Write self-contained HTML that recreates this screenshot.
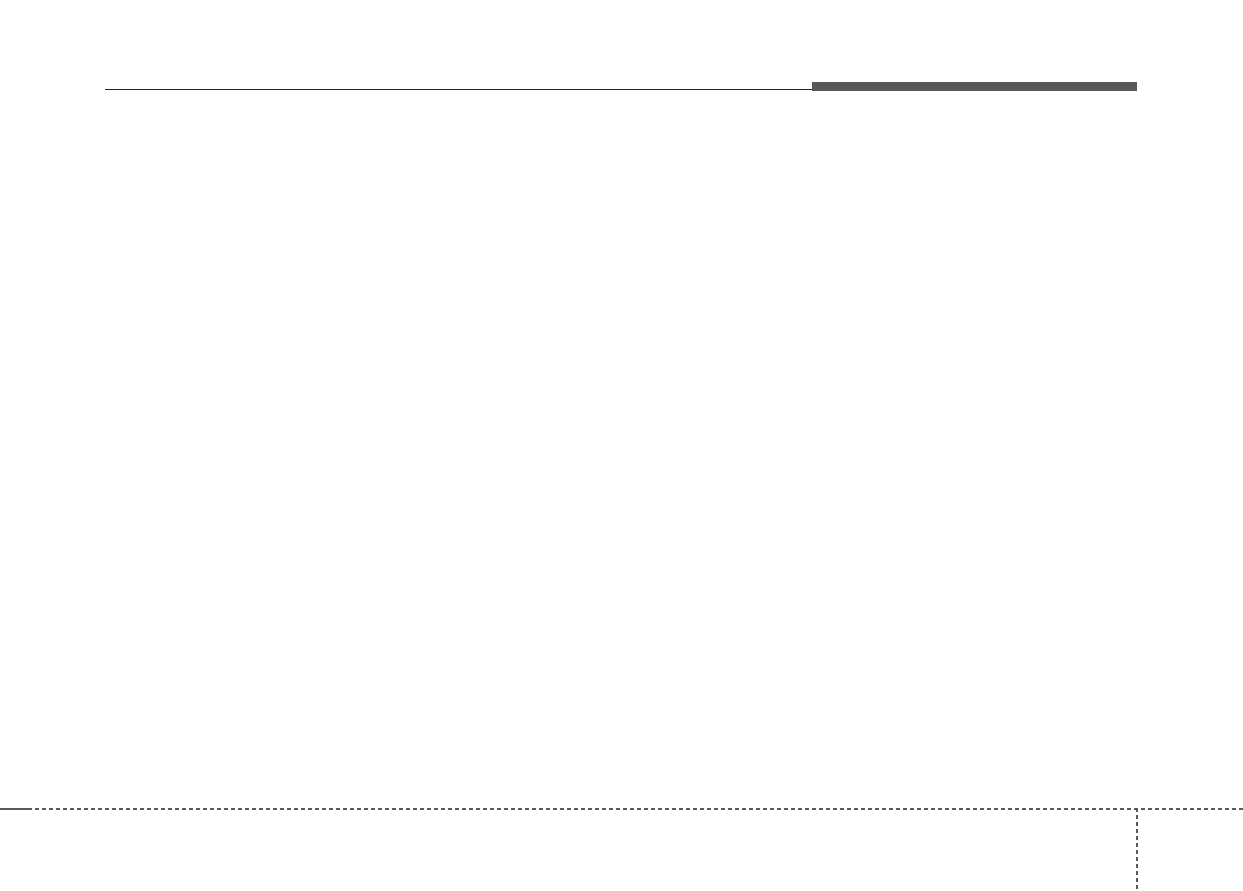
<!DOCTYPE html>
<html><head><meta charset="utf-8"><style>
html,body{margin:0;padding:0;background:#fff;}
body{width:1243px;height:891px;position:relative;overflow:hidden;}
.thin{position:absolute;left:105px;top:89px;width:708px;height:1px;background:#222;}
.bar{position:absolute;left:812px;top:82px;width:325px;height:9px;background:#58595b;}
.solid{position:absolute;left:0;top:808px;width:28px;height:2px;background:#58595b;}
.hd{position:absolute;left:28px;top:808px;width:1215px;height:2px;
 background:repeating-linear-gradient(to right,#58595b 0 4px,transparent 4px 7px);}
.vd{position:absolute;left:1136px;top:808px;width:2px;height:83px;
 background:repeating-linear-gradient(to bottom,#58595b 0 4px,transparent 4px 7px);}
</style></head><body>
<div class="thin"></div><div class="bar"></div>
<div class="solid"></div><div class="hd"></div><div class="vd"></div>
</body></html>
